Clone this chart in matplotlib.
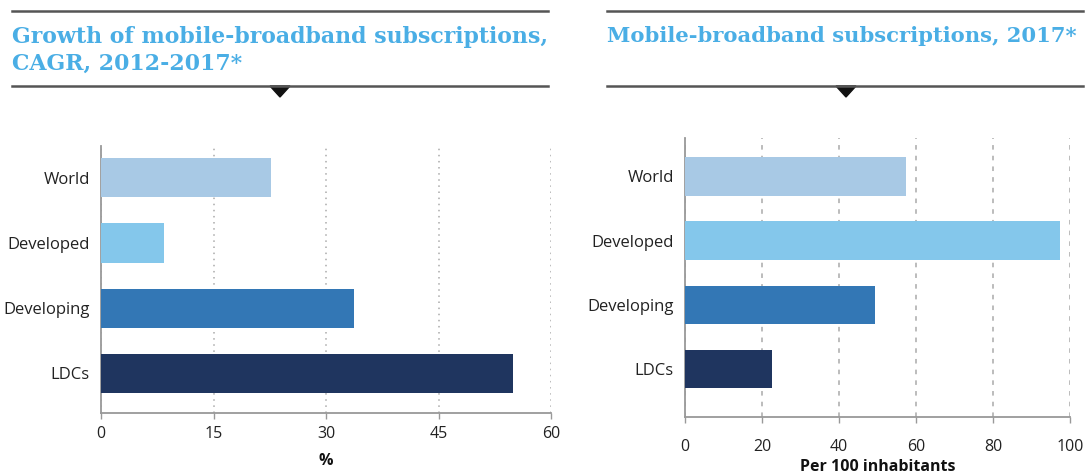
import matplotlib
matplotlib.use("Agg")
import matplotlib.pyplot as plt
from matplotlib.lines import Line2D
from matplotlib.patches import Polygon

categories = ["World", "Developed", "Developing", "LDCs"]
cagr_values = [22.6, 8.4, 33.7, 54.9]
subs_values = [57.3, 97.4, 49.4, 22.5]
bar_colors = ["#A8C9E5", "#84C7EB", "#3377B5", "#1F355F"]

left_ticks = [0, 15, 30, 45, 60]
right_ticks = [0, 20, 40, 60, 80, 100]
left_title = "Growth of mobile-broadband subscriptions,\nCAGR, 2012-2017*"
right_title = "Mobile-broadband subscriptions, 2017*"
left_xlabel = "%"
right_xlabel = "Per 100 inhabitants"

W, H = 1092, 475
fig = plt.figure(figsize=(W / 100, H / 100), dpi=100)

TITLE_COLOR = "#4AAEE5"
LABEL_FONT = ["Open Sans", "DejaVu Sans"]
TITLE_FONT = ["DejaVu Serif"]


def fx(px):
    return px / W


def fy(py):
    return 1 - py / H


def draw_panel(rect, values, ticks, xlabel, ylim, grid_ls, label_pad, xlabel_pad):
    ax = fig.add_axes(rect)
    y = list(range(len(categories)))
    ax.barh(y, values, height=0.6, color=bar_colors, zorder=3)
    ax.set_xlim(ticks[0], ticks[-1])
    ax.set_ylim(*ylim)
    ax.set_xticks(ticks)
    ax.set_xticklabels([str(t) for t in ticks], fontsize=11.5, family=LABEL_FONT, color="#222222")
    ax.set_yticks(y)
    ax.set_yticklabels(categories, fontsize=12, family=LABEL_FONT, color="#222222")
    ax.tick_params(axis="y", length=0, pad=8)
    ax.tick_params(axis="x", length=4, width=1, color="#999999", pad=label_pad, direction="out")
    for s in ["top", "right"]:
        ax.spines[s].set_visible(False)
    for s in ["left", "bottom"]:
        ax.spines[s].set_color("#999999")
        ax.spines[s].set_linewidth(1.3)
    ax.grid(axis="x", color="#aaaaaa", linestyle=grid_ls, linewidth=1.1, zorder=0)
    ax.set_xlabel(xlabel, fontsize=11.5, family=LABEL_FONT, fontweight="bold",
                  color="#111111", labelpad=xlabel_pad)
    return ax


# Left panel
draw_panel([fx(101), fy(413), fx(551) - fx(101), fy(146) - fy(413)],
           cagr_values, left_ticks, left_xlabel, (3.61, -0.49), (0, (1, 3)), 5, 8)
# Right panel
draw_panel([fx(685), fy(417), fx(1070) - fx(685), fy(138) - fy(417)],
           subs_values, right_ticks, right_xlabel, (3.75, -0.6), (0, (3, 4)), 12, 3)


def header(x0, x1, tri_x, title, title_y, size):
    for yy in (11, 86):
        fig.add_artist(Line2D([fx(x0), fx(x1)], [fy(yy), fy(yy)], color="#555555",
                              linewidth=1.8, transform=fig.transFigure))
    tri = Polygon([[fx(tri_x - 10), fy(86)], [fx(tri_x + 10), fy(86)], [fx(tri_x), fy(97)]],
                  closed=True, color="#111111", transform=fig.transFigure)
    fig.add_artist(tri)
    fig.text(fx(x0), fy(title_y), title, color=TITLE_COLOR, fontsize=size,
             fontweight="bold", family=TITLE_FONT, va="top", ha="left", linespacing=1.3)


header(12, 548, 280, left_title, 26, 15.8)
header(607, 1083, 846, right_title, 26, 15.2)

fig.savefig("out.png", dpi=100, facecolor="white")
